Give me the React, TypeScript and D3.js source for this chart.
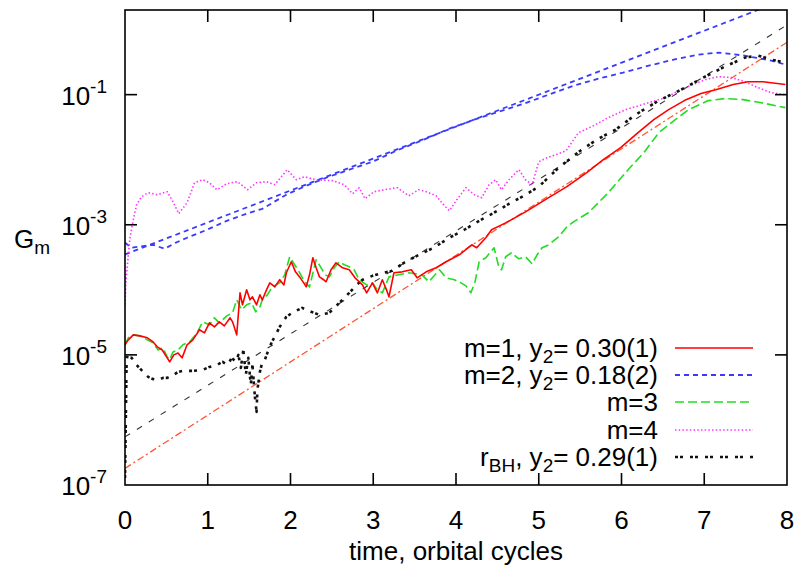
import React from "react";
import * as d3 from "d3";

// Growth of the azimuthal mode amplitudes G_m and of the black-hole displacement r_BH
// versus time in orbital cycles. Each series is a list of [time, value] pairs.

const m1Points: [number, number][] = [
  [0, 1.43e-5], [0.04, 1.7e-5], [0.1, 2.03e-5], [0.18, 1.96e-5], [0.27, 1.83e-5], [0.34, 1.58e-5],
  [0.39, 1.33e-5], [0.45, 1.19e-5], [0.51, 9.0e-6], [0.54, 7.8e-6], [0.59, 1.0e-5], [0.64, 1.07e-5],
  [0.69, 9.0e-6], [0.75, 1.43e-5], [0.82, 1.7e-5], [0.9, 2.43e-5], [0.96, 2.18e-5], [1.02, 3.11e-5],
  [1.08, 2.7e-5], [1.14, 3.22e-5], [1.2, 2.79e-5], [1.27, 3.71e-5], [1.3, 3.22e-5], [1.35, 2.03e-5],
  [1.39, 8.99e-5], [1.42, 5.88e-5], [1.47, 1.0e-4], [1.51, 7.02e-5], [1.54, 7.8e-5], [1.59, 5.88e-5],
  [1.63, 8.38e-5], [1.66, 7.02e-5], [1.71, 1.0e-4], [1.75, 1.28e-4], [1.81, 1.11e-4], [1.87, 1.43e-4],
  [1.92, 1.19e-4], [1.95, 1.83e-4], [2.01, 2.7e-4], [2.06, 1.89e-4], [2.11, 1.58e-4], [2.16, 1.28e-4],
  [2.19, 1.11e-4], [2.23, 1.7e-4], [2.27, 3.11e-4], [2.31, 2.18e-4], [2.35, 1.58e-4], [2.4, 1.43e-4],
  [2.43, 1.33e-4], [2.49, 2.03e-4], [2.55, 2.6e-4], [2.63, 2.18e-4], [2.71, 2.03e-4], [2.78, 1.53e-4],
  [2.87, 1.19e-4], [2.92, 8.99e-5], [2.99, 1.28e-4], [3.05, 8.99e-5], [3.11, 1.43e-4], [3.16, 1.0e-4],
  [3.19, 7.8e-5], [3.25, 1.83e-4], [3.35, 1.89e-4], [3.46, 2.03e-4], [3.53, 1.53e-4], [3.64, 1.89e-4],
  [3.76, 2.18e-4], [3.88, 2.7e-4], [4.04, 3.45e-4], [4.19, 4.92e-4], [4.25, 4.43e-4], [4.36, 6.31e-4],
  [4.43, 8.38e-4], [4.6, 1.07e-3], [4.84, 1.58e-3], [5.08, 2.43e-3], [5.34, 3.85e-3], [5.58, 6.31e-3],
  [5.78, 1.0e-2], [5.99, 1.53e-2], [6.2, 2.6e-2], [6.39, 4.12e-2], [6.57, 5.88e-2], [6.78, 8.38e-2],
  [6.96, 0.104], [7.14, 0.119], [7.35, 0.143], [7.53, 0.158], [7.71, 0.158], [7.98, 0.143],
];

const m2Points: [number, number][] = [
  [0, 5.28e-4], [0.08, 4.43e-4], [0.24, 4.75e-4], [0.34, 4.92e-4], [0.48, 4.28e-4], [0.61, 5.28e-4],
  [0.75, 6.31e-4], [0.99, 8.38e-4], [1.23, 1.15e-3], [1.47, 1.48e-3], [1.66, 1.76e-3], [1.95, 2.9e-3],
  [2.19, 3.98e-3], [2.43, 5.28e-3], [2.71, 7.02e-3], [2.99, 9.3e-3], [3.31, 1.43e-2], [3.61, 2.03e-2],
  [3.92, 3.0e-2], [4.22, 4.12e-2], [4.52, 5.47e-2], [4.82, 7.27e-2], [5.12, 0.1], [5.42, 0.137],
  [5.72, 0.176], [6.02, 0.218], [6.33, 0.279], [6.63, 0.345], [6.93, 0.412], [7.17, 0.443],
  [7.49, 0.398], [7.81, 0.333], [7.98, 0.29],
];

const m3Points: [number, number][] = [
  [0, 1.43e-5], [0.04, 1.83e-5], [0.1, 2.03e-5], [0.18, 1.96e-5], [0.27, 1.7e-5], [0.34, 1.53e-5],
  [0.4, 1.19e-5], [0.46, 1.28e-5], [0.51, 9.3e-6], [0.54, 8.4e-6], [0.58, 1.11e-5], [0.64, 1.19e-5],
  [0.7, 1.43e-5], [0.78, 1.58e-5], [0.87, 2.18e-5], [0.94, 3.22e-5], [1.02, 2.9e-5], [1.08, 3.71e-5],
  [1.14, 3.11e-5], [1.23, 3.98e-5], [1.3, 4.43e-5], [1.35, 7.02e-5], [1.41, 4.92e-5], [1.47, 5.88e-5],
  [1.53, 6.31e-5], [1.58, 4.59e-5], [1.63, 5.47e-5], [1.66, 7.02e-5], [1.72, 8.38e-5], [1.78, 1.11e-4],
  [1.87, 1.28e-4], [1.93, 1.7e-4], [1.99, 3.22e-4], [2.05, 2.43e-4], [2.11, 1.83e-4], [2.17, 1.33e-4],
  [2.23, 1.11e-4], [2.28, 2.03e-4], [2.31, 2.9e-4], [2.37, 2.18e-4], [2.42, 1.7e-4], [2.47, 1.58e-4],
  [2.53, 2.18e-4], [2.59, 2.7e-4], [2.65, 2.43e-4], [2.71, 2.26e-4], [2.77, 2.03e-4], [2.83, 1.43e-4],
  [2.92, 1.19e-4], [2.99, 1.28e-4], [3.05, 1.0e-4], [3.11, 8.99e-5], [3.19, 1.58e-4], [3.31, 1.7e-4],
  [3.43, 1.83e-4], [3.59, 1.7e-4], [3.67, 1.33e-4], [3.8, 2.03e-4], [3.88, 1.53e-4], [3.98, 1.43e-4],
  [4.06, 1.28e-4], [4.12, 1.15e-4], [4.18, 8.99e-5], [4.23, 1.33e-4], [4.28, 2.7e-4], [4.36, 3.11e-4],
  [4.46, 4.43e-4], [4.52, 2.18e-4], [4.55, 2.03e-4], [4.6, 3.22e-4], [4.67, 3.71e-4], [4.76, 3.0e-4],
  [4.84, 3.22e-4], [4.92, 2.51e-4], [4.98, 3.45e-4], [5.04, 4.43e-4], [5.12, 4.92e-4], [5.24, 6.53e-4],
  [5.33, 8.99e-4], [5.42, 1.11e-3], [5.6, 1.53e-3], [5.84, 3.11e-3], [6.08, 7.02e-3], [6.27, 1.28e-2],
  [6.45, 2.6e-2], [6.65, 4.12e-2], [6.81, 5.88e-2], [7.05, 8.1e-2], [7.25, 8.7e-2], [7.47, 8.38e-2],
  [7.69, 7.5e-2], [7.98, 6.31e-2],
];

const m4Points: [number, number][] = [
  [0, 5.9e-5], [0.01, 1.28e-4], [0.04, 3.45e-4], [0.06, 6.31e-4], [0.1, 1.19e-3], [0.14, 2.03e-3],
  [0.2, 2.7e-3], [0.28, 3.11e-3], [0.39, 2.9e-3], [0.51, 3.22e-3], [0.58, 2.26e-3], [0.65, 1.48e-3],
  [0.75, 2.18e-3], [0.84, 4.43e-3], [0.94, 4.92e-3], [1.02, 4.43e-3], [1.11, 3.45e-3], [1.23, 4.28e-3],
  [1.36, 4.59e-3], [1.48, 3.45e-3], [1.59, 4.43e-3], [1.71, 4.59e-3], [1.81, 4.12e-3], [1.96, 7.02e-3],
  [2.07, 4.92e-3], [2.17, 5.47e-3], [2.31, 4.92e-3], [2.51, 4.75e-3], [2.65, 4.12e-3], [2.75, 3.0e-3],
  [2.83, 3.71e-3], [2.9, 2.51e-3], [3.01, 3.22e-3], [3.13, 3.45e-3], [3.29, 3.71e-3], [3.43, 2.79e-3],
  [3.55, 3.45e-3], [3.64, 3.22e-3], [3.76, 2.79e-3], [3.84, 2.1e-3], [3.92, 1.64e-3], [4.01, 2.43e-3],
  [4.12, 3.71e-3], [4.22, 2.9e-3], [4.31, 2.6e-3], [4.4, 4.12e-3], [4.48, 4.92e-3], [4.55, 3.45e-3],
  [4.64, 4.92e-3], [4.76, 7.02e-3], [4.84, 4.92e-3], [4.92, 4.12e-3], [5.0, 9.3e-3], [5.1, 1.07e-2],
  [5.2, 1.19e-2], [5.33, 1.37e-2], [5.48, 2.6e-2], [5.64, 3.22e-2], [5.84, 4.43e-2], [6.05, 5.88e-2],
  [6.29, 7.27e-2], [6.53, 8.99e-2], [6.77, 0.128], [7.01, 0.17], [7.17, 0.189], [7.33, 0.183],
  [7.49, 0.158], [7.65, 0.128], [7.81, 0.107], [7.98, 0.1],
];

const rbhPoints: [number, number][] = [
  [0, 1.28e-7], [0.01, 1.0e-6], [0.02, 9.3e-6], [0.08, 9.0e-6], [0.14, 7.0e-6], [0.22, 5.47e-6],
  [0.28, 4.59e-6], [0.33, 4.28e-6], [0.4, 4.12e-6], [0.46, 4.43e-6], [0.51, 4.43e-6], [0.57, 4.75e-6],
  [0.64, 5.47e-6], [0.7, 5.67e-6], [0.82, 5.67e-6], [0.94, 5.88e-6], [1.02, 6.53e-6], [1.11, 7.02e-6],
  [1.18, 7.8e-6], [1.24, 7.02e-6], [1.29, 9.0e-6], [1.34, 7.8e-6], [1.37, 1.0e-5], [1.4, 6.31e-6],
  [1.43, 1.19e-5], [1.46, 4.92e-6], [1.49, 9.0e-6], [1.52, 3.45e-6], [1.54, 7.02e-6], [1.57, 2.26e-6],
  [1.59, 1.33e-6], [1.6, 2.9e-6], [1.63, 5.47e-6], [1.66, 7.8e-6], [1.69, 8.38e-6], [1.72, 1.07e-5],
  [1.77, 1.53e-5], [1.87, 2.7e-5], [1.95, 3.85e-5], [2.02, 4.43e-5], [2.14, 5.28e-5], [2.25, 4.59e-5],
  [2.35, 4.12e-5], [2.47, 4.43e-5], [2.59, 6.31e-5], [2.71, 8.99e-5], [2.8, 1.19e-4], [2.87, 1.43e-4],
  [2.99, 1.64e-4], [3.13, 1.83e-4], [3.23, 1.96e-4], [3.37, 2.6e-4], [3.55, 3.45e-4], [3.73, 4.43e-4],
  [3.92, 6.31e-4], [4.1, 8.38e-4], [4.28, 1.15e-3], [4.46, 1.53e-3], [4.64, 2.1e-3], [4.82, 2.79e-3],
  [5.0, 3.85e-3], [5.24, 7.53e-3], [5.52, 1.43e-2], [5.72, 2.1e-2], [5.93, 2.9e-2], [6.17, 4.92e-2],
  [6.45, 8.09e-2], [6.72, 0.119], [7.01, 0.189], [7.25, 0.27], [7.49, 0.371], [7.65, 0.398],
  [7.81, 0.345], [7.98, 0.311],
];

// Exponential fits G = A exp(2π y2 t): growth rates y2 as given in the legend.
const fitNames = ["m1", "m2", "rBH"];
const fitAmplitudes = [1.8e-7, 3.5e-4, 5.5e-7];
const fitRates = [0.3, 0.18, 0.29];

const xTicks = [0, 1, 2, 3, 4, 5, 6, 7, 8];
const yTicks = [1e-7, 1e-5, 1e-3, 1e-1];
const yTickExponents = ["-7", "-5", "-3", "-1"];

const W = 801;
const H = 569;
const left = 125;
const right = 787;
const top = 10;
const bottom = 485;
const FONT = "'Liberation Sans', Arial, Helvetica, sans-serif";
const FS = 26;

const x = d3.scaleLinear().domain([0, 8]).range([left, right]);
const y = d3.scaleLog().domain([1e-7, 2]).range([bottom, top]);

const line = d3
  .line<[number, number]>()
  .x((d) => x(d[0]))
  .y((d) => y(d[1]));

const styles = {
  m1: { stroke: "#ff0000", width: 1.6, dash: undefined as string | undefined },
  m2: { stroke: "#3a3aff", width: 1.8, dash: "5,4" },
  m3: { stroke: "#22dd22", width: 1.6, dash: "9,4" },
  m4: { stroke: "#ff33ff", width: 1.6, dash: "1.5,2.2" },
  rbh: { stroke: "#111111", width: 2.6, dash: "3,2,3,7" },
};
const fitStyles: Record<string, { stroke: string; width: number; dash: string }> = {
  m1: { stroke: "#ff5533", width: 1.3, dash: "7,3,2,3" },
  m2: { stroke: "#3a3aff", width: 1.8, dash: "5,4" },
  rBH: { stroke: "#333333", width: 1.1, dash: "6,8" },
};

function fitLine(i: number): [number, number][] {
  const a = fitAmplitudes[i];
  const k = 2 * Math.PI * fitRates[i];
  return [0, 8].map((t) => [t, a * Math.exp(k * t)] as [number, number]);
}

export default function App() {
  const legendRows = [
    { key: "m1", y: 348 },
    { key: "m2", y: 375 },
    { key: "m3", y: 402 },
    { key: "m4", y: 430 },
    { key: "rbh", y: 457 },
  ];
  const textRight = 658;
  const sampleX0 = 675;
  const sampleX1 = 753;
  const sub = { fontSize: 19 };

  const legendText = (key: string, yy: number) => {
    const base = yy + 9;
    switch (key) {
      case "m1":
        return (
          <text x={textRight} y={base} textAnchor="end">
            m=1, y<tspan dy={6} {...sub}>2</tspan><tspan dy={-6}>= 0.30(1)</tspan>
          </text>
        );
      case "m2":
        return (
          <text x={textRight} y={base} textAnchor="end">
            m=2, y<tspan dy={6} {...sub}>2</tspan><tspan dy={-6}>= 0.18(2)</tspan>
          </text>
        );
      case "m3":
        return <text x={textRight} y={base} textAnchor="end">m=3</text>;
      case "m4":
        return <text x={textRight} y={base} textAnchor="end">m=4</text>;
      default:
        return (
          <text x={textRight} y={base} textAnchor="end">
            r<tspan dy={6} {...sub}>BH</tspan><tspan dy={-6}>, y</tspan>
            <tspan dy={6} {...sub}>2</tspan><tspan dy={-6}>= 0.29(1)</tspan>
          </text>
        );
    }
  };

  const series: { key: keyof typeof styles; pts: [number, number][] }[] = [
    { key: "m2", pts: m2Points },
    { key: "m4", pts: m4Points },
    { key: "m3", pts: m3Points },
    { key: "rbh", pts: rbhPoints },
    { key: "m1", pts: m1Points },
  ];

  return (
    <svg
      width={W}
      height={H}
      style={{ position: "absolute", left: 0, top: 0, background: "#fff" }}
      fontFamily={FONT}
      fontSize={FS}
    >
      <defs>
        <clipPath id="plotArea">
          <rect x={left} y={top} width={right - left} height={bottom - top} />
        </clipPath>
      </defs>
      <rect x={0} y={0} width={W} height={H} fill="#fff" />

      <g clipPath="url(#plotArea)" fill="none">
        {fitNames.map((name, i) => {
          const s = fitStyles[name];
          return (
            <path
              key={name}
              d={line(fitLine(i)) || ""}
              stroke={s.stroke}
              strokeWidth={s.width}
              strokeDasharray={s.dash}
            />
          );
        })}
        {series.map(({ key, pts }) => {
          const s = styles[key];
          return (
            <path
              key={key}
              d={line(pts) || ""}
              stroke={s.stroke}
              strokeWidth={s.width}
              strokeDasharray={s.dash}
              strokeLinejoin="round"
            />
          );
        })}
      </g>

      {/* frame and mirrored ticks */}
      <rect x={left} y={top} width={right - left} height={bottom - top} fill="none" stroke="#000" strokeWidth={1.6} />
      {xTicks.slice(1, -1).map((t) => (
        <g key={"xt" + t} stroke="#000" strokeWidth={1.6}>
          <line x1={x(t)} x2={x(t)} y1={bottom} y2={bottom - 12} />
          <line x1={x(t)} x2={x(t)} y1={top} y2={top + 12} />
        </g>
      ))}
      {yTicks.slice(1).map((v) => (
        <g key={"yt" + v} stroke="#000" strokeWidth={1.6}>
          <line x1={left} x2={left + 12} y1={y(v)} y2={y(v)} />
          <line x1={right} x2={right - 12} y1={y(v)} y2={y(v)} />
        </g>
      ))}

      {/* tick labels */}
      {xTicks.map((t) => (
        <text key={"xl" + t} x={x(t)} y={529} textAnchor="middle">
          {t}
        </text>
      ))}
      {yTicks.map((v, i) => (
        <text key={"yl" + v} x={107} y={y(v) + 10} textAnchor="end">
          10<tspan dy={-12} fontSize={19}>{yTickExponents[i]}</tspan>
        </text>
      ))}

      {/* axis titles */}
      <text x={(left + right) / 2} y={560} textAnchor="middle">
        time, orbital cycles
      </text>
      <text x={14} y={248}>
        G<tspan dy={6} fontSize={19}>m</tspan>
      </text>

      {/* legend */}
      {legendRows.map(({ key, y: yy }) => {
        const s = styles[key as keyof typeof styles];
        return (
          <g key={"lg" + key}>
            {legendText(key, yy)}
            <line
              x1={sampleX0}
              x2={sampleX1}
              y1={yy}
              y2={yy}
              stroke={s.stroke}
              strokeWidth={s.width}
              strokeDasharray={s.dash}
            />
          </g>
        );
      })}
    </svg>
  );
}
